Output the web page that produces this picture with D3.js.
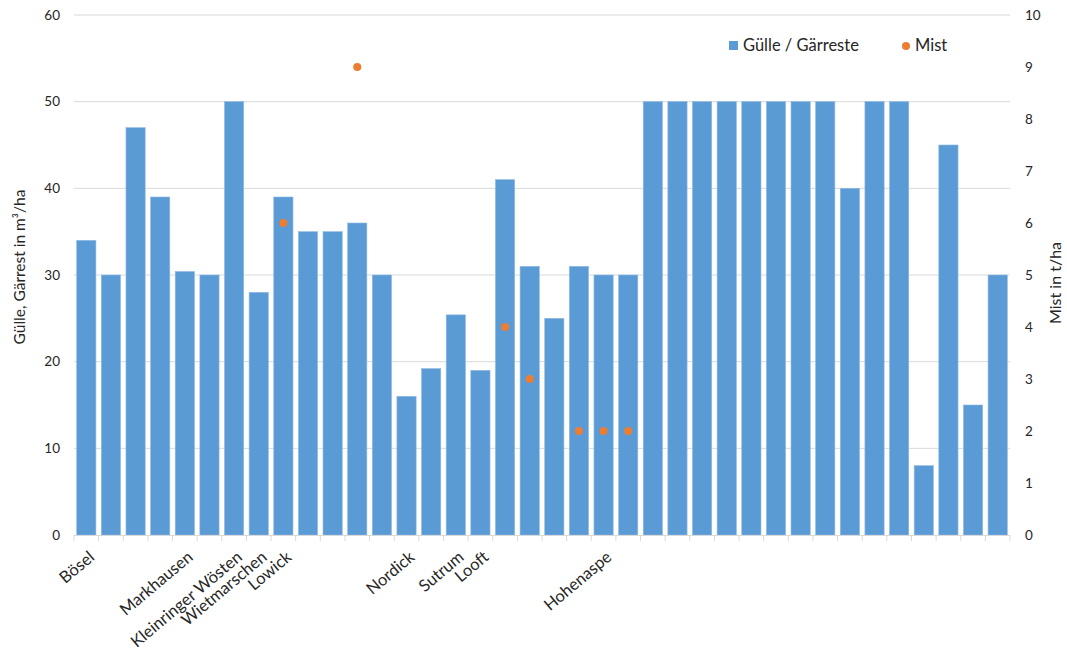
<!DOCTYPE html>
<html><head><meta charset="utf-8">
<script src="https://cdn.jsdelivr.net/npm/d3@7"></script>
<style>body{margin:0;background:#fff}text{font-family:Lato,"Open Sans",sans-serif;fill:#262626}</style>
</head><body><svg id="c" width="1067" height="651"></svg>
<script>
const categories = ["Bösel","","","","Markhausen","","Kleinringer Wösten","Wietmarschen","Lowick","","","","","Nordick","","Sutrum","Looft","","","","","Hohenaspe","","","","","","","","","","","","","","","",""];
const guelle = [34,30,47,39,30.4,30,50,28,39,35,35,36,30,16,19.2,25.4,19,41,31,25,31,30,30,50,50,50,50,50,50,50,50,40,50,50,8,45,15,30];
const mist = [null,null,null,null,null,null,null,null,6,null,null,9,null,null,null,null,null,4,3,null,2,2,2,null,null,null,null,null,null,null,null,null,null,null,null,null,null,null];
const leftTicks = [0,10,20,30,40,50,60];
const rightTicks = [0,1,2,3,4,5,6,7,8,9,10];

const svg = d3.select("#c");
const L = 74, R = 1010, T = 15, B = 535;
const idx = d3.range(categories.length);
const x = d3.scaleBand().domain(idx).range([L, R]).paddingInner(0.22).paddingOuter(0.11);
const yL = d3.scaleLinear().domain([0, 60]).range([B, T]);
const yR = d3.scaleLinear().domain([0, 10]).range([B, T]);

// grid
svg.append("g").selectAll("line").data(leftTicks.filter(d => d > 0)).join("line")
  .attr("x1", L).attr("x2", R).attr("y1", d => yL(d)).attr("y2", d => yL(d))
  .attr("stroke", "#D9D9D9").attr("stroke-width", 1);

// left axis
const gl = svg.append("g").attr("transform", `translate(${L},0)`)
  .call(d3.axisLeft(yL).tickValues(leftTicks).tickSize(0).tickPadding(14));
gl.select(".domain").remove();
gl.selectAll("text").style("font-size", "13.5px").attr("fill", "#262626");

// right axis
const gr = svg.append("g").attr("transform", `translate(${R},0)`)
  .call(d3.axisRight(yR).tickValues(rightTicks).tickSize(0).tickPadding(15));
gr.select(".domain").remove();
gr.selectAll("text").style("font-size", "13.5px").attr("fill", "#262626");

// bars
svg.append("g").selectAll("rect").data(guelle).join("rect")
  .attr("x", (d, i) => x(i)).attr("width", x.bandwidth())
  .attr("y", d => yL(d)).attr("height", d => B - yL(d))
  .attr("fill", "#5B9BD5").attr("stroke", "#8DB9E3").attr("stroke-width", 0.6);

// x baseline and ticks
svg.append("line").attr("x1", L).attr("x2", R).attr("y1", B + 0.5).attr("y2", B + 0.5)
  .attr("stroke", "#D9D9D9");
svg.append("g").selectAll("line").data(d3.range(categories.length + 1)).join("line")
  .attr("x1", i => L + i * (R - L) / categories.length).attr("x2", i => L + i * (R - L) / categories.length)
  .attr("y1", B).attr("y2", B + 6).attr("stroke", "#D9D9D9");

// category labels
svg.append("g").selectAll("text").data(categories).join("text")
  .attr("transform", (d, i) => `translate(${x(i) + x.bandwidth() / 2 + 1},${B + 14}) rotate(-40)`)
  .attr("text-anchor", "end").attr("dominant-baseline", "hanging")
  .style("font-size", "16.5px").text(d => d);

// mist points
svg.append("g").selectAll("circle").data(mist.map((v, i) => ({v, i})).filter(d => d.v !== null)).join("circle")
  .attr("cx", d => x(d.i) + x.bandwidth() / 2).attr("cy", d => yR(d.v)).attr("r", 4)
  .attr("fill", "#ED7D31");

// axis titles
svg.append("text").attr("transform", `translate(25,267) rotate(-90)`)
  .attr("text-anchor", "middle").style("font-size", "15.5px").text("Gülle, Gärrest in m³/ha");
svg.append("text").attr("transform", `translate(1061,283) rotate(-90)`)
  .attr("text-anchor", "middle").style("font-size", "16px").text("Mist in t/ha");

// legend
const lg = svg.append("g");
lg.append("rect").attr("x", 729).attr("y", 41).attr("width", 9).attr("height", 9).attr("fill", "#5B9BD5");
lg.append("text").attr("x", 743).attr("y", 51).style("font-size", "16.5px").text("Gülle / Gärreste");
lg.append("circle").attr("cx", 906).attr("cy", 46).attr("r", 4).attr("fill", "#ED7D31");
lg.append("text").attr("x", 915).attr("y", 51).style("font-size", "16.5px").text("Mist");
</script></body></html>
